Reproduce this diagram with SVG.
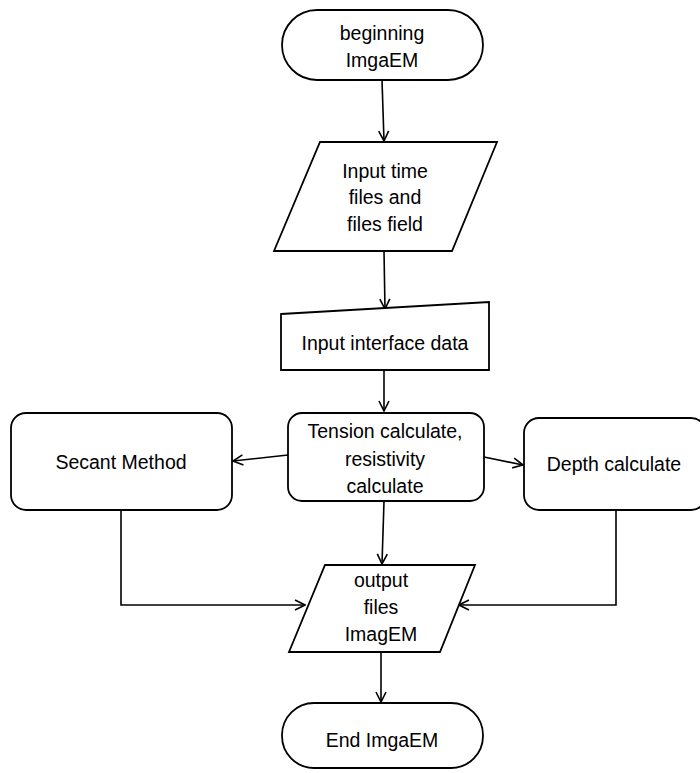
<svg xmlns="http://www.w3.org/2000/svg" width="700" height="773" viewBox="0 0 700 773">
<style>
.s{fill:#fff;stroke:#000;stroke-width:1.8}
.t{font-family:"Liberation Sans",Arial,sans-serif;font-size:19.5px;fill:#000;text-anchor:middle}
.c{fill:none;stroke:#000;stroke-width:1.6}
</style>
<defs>
<marker id="a" viewBox="0 0 12 12" refX="11" refY="6" markerWidth="12" markerHeight="12" markerUnits="userSpaceOnUse" orient="auto">
<polyline points="1,1 11,6 1,11" fill="none" stroke="#000" stroke-width="1.6"/>
</marker>
</defs>
<rect width="700" height="773" fill="#fff"/>
<g id="connectors">
<line class="c" x1="382" y1="80" x2="384" y2="141" marker-end="url(#a)"/>
<line class="c" x1="384" y1="251" x2="385" y2="309" marker-end="url(#a)"/>
<line class="c" x1="384" y1="370" x2="384" y2="411" marker-end="url(#a)"/>
<line class="c" x1="288" y1="455" x2="233" y2="461" marker-end="url(#a)"/>
<line class="c" x1="484" y1="457" x2="523" y2="465" marker-end="url(#a)"/>
<line class="c" x1="384" y1="501" x2="382" y2="564" marker-end="url(#a)"/>
<polyline class="c" points="121,510 121,605 305,605" marker-end="url(#a)"/>
<polyline class="c" points="616,510 616,605 459,605" marker-end="url(#a)"/>
<line class="c" x1="381" y1="652" x2="381" y2="702" marker-end="url(#a)"/>
</g>
<g id="start">
<rect class="s" x="282" y="10" width="201" height="70" rx="35"/>
<text class="t" x="382" y="40">beginning</text>
<text class="t" x="382" y="67">ImgaEM</text>
</g>
<g id="input1">
<polygon class="s" points="320,142 497,142 452,251 274,251"/>
<text class="t" x="385" y="178">Input  time</text>
<text class="t" x="385" y="204">files and</text>
<text class="t" x="385" y="231">files field</text>
</g>
<g id="input2">
<polygon class="s" points="281,314 489,302 489,370 281,370"/>
<text class="t" x="385" y="350">Input interface data</text>
</g>
<g id="tension">
<rect class="s" x="288" y="413" width="196" height="88" rx="14"/>
<text class="t" x="385" y="438">Tension calculate,</text>
<text class="t" x="385" y="466">resistivity</text>
<text class="t" x="385" y="493">calculate</text>
</g>
<g id="secant">
<rect class="s" x="11" y="413" width="221" height="97" rx="15"/>
<text class="t" x="121" y="469">Secant Method</text>
</g>
<g id="depth">
<rect class="s" x="524" y="418" width="182" height="92" rx="15"/>
<text class="t" x="614" y="471">Depth calculate</text>
</g>
<g id="output">
<polygon class="s" points="325,565 475,565 440,652 289,652"/>
<text class="t" x="381" y="587">output</text>
<text class="t" x="381" y="614">files</text>
<text class="t" x="381" y="641">ImagEM</text>
</g>
<g id="end">
<rect class="s" x="282" y="703" width="201" height="65" rx="32"/>
<text class="t" x="382" y="747">End  ImgaEM</text>
</g>
</svg>
